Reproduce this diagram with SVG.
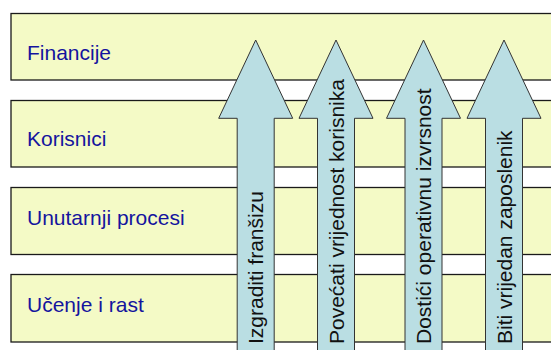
<svg xmlns="http://www.w3.org/2000/svg" width="551" height="350" viewBox="0 0 551 350">
  <defs>
    <style>
      .band { fill: #F4FAC6; stroke: #1a1a1a; stroke-width: 1.3; }
      .blabel { font-family: "Liberation Sans", Arial, sans-serif; font-size: 21px; fill: #14149E; }
      .arrow { fill: #BADEE3; stroke: #333333; stroke-width: 1; stroke-linejoin: miter; }
      .alabel { font-family: "Liberation Sans", Arial, sans-serif; font-size: 21px; fill: #111111; }
    </style>
    <path id="arrowShape" d="M0,40 L37,118.3 L18.5,118.3 L18.5,360 L-18.5,360 L-18.5,118.3 L-37,118.3 Z"/>
  </defs>
  <rect width="551" height="350" fill="#FFFFFF"/>

  <g id="band-financije">
    <rect class="band" x="11" y="13.5" width="560" height="66.5"/>
    <text class="blabel" x="27" y="59.5">Financije</text>
  </g>
  <g id="band-korisnici">
    <rect class="band" x="11" y="100.5" width="560" height="66.5"/>
    <text class="blabel" x="27" y="146">Korisnici</text>
  </g>
  <g id="band-unutarnji-procesi">
    <rect class="band" x="11" y="187.5" width="560" height="67"/>
    <text class="blabel" x="27" y="225">Unutarnji procesi</text>
  </g>
  <g id="band-ucenje-i-rast">
    <rect class="band" x="11" y="274.5" width="560" height="67.5"/>
    <text class="blabel" x="27" y="312.3">Učenje i rast</text>
  </g>

  <g id="arrow-izgraditi-fransizu">
    <use href="#arrowShape" class="arrow" transform="translate(255.7,0)"/>
    <text class="alabel" transform="translate(263.3,344) rotate(-90)">Izgraditi franšizu</text>
  </g>
  <g id="arrow-povecati-vrijednost-korisnika">
    <use href="#arrowShape" class="arrow" transform="translate(336,0)"/>
    <text class="alabel" transform="translate(343.5,344) rotate(-90)">Povećati vrijednost korisnika</text>
  </g>
  <g id="arrow-dostici-operativnu-izvrsnost">
    <use href="#arrowShape" class="arrow" transform="translate(423.5,0)"/>
    <text class="alabel" transform="translate(431,344) rotate(-90)">Dostići operativnu izvrsnost</text>
  </g>
  <g id="arrow-biti-vrijedan-zaposlenik">
    <use href="#arrowShape" class="arrow" transform="translate(504,0)"/>
    <text class="alabel" transform="translate(511.5,344) rotate(-90)">Biti vrijedan zaposlenik</text>
  </g>
</svg>
